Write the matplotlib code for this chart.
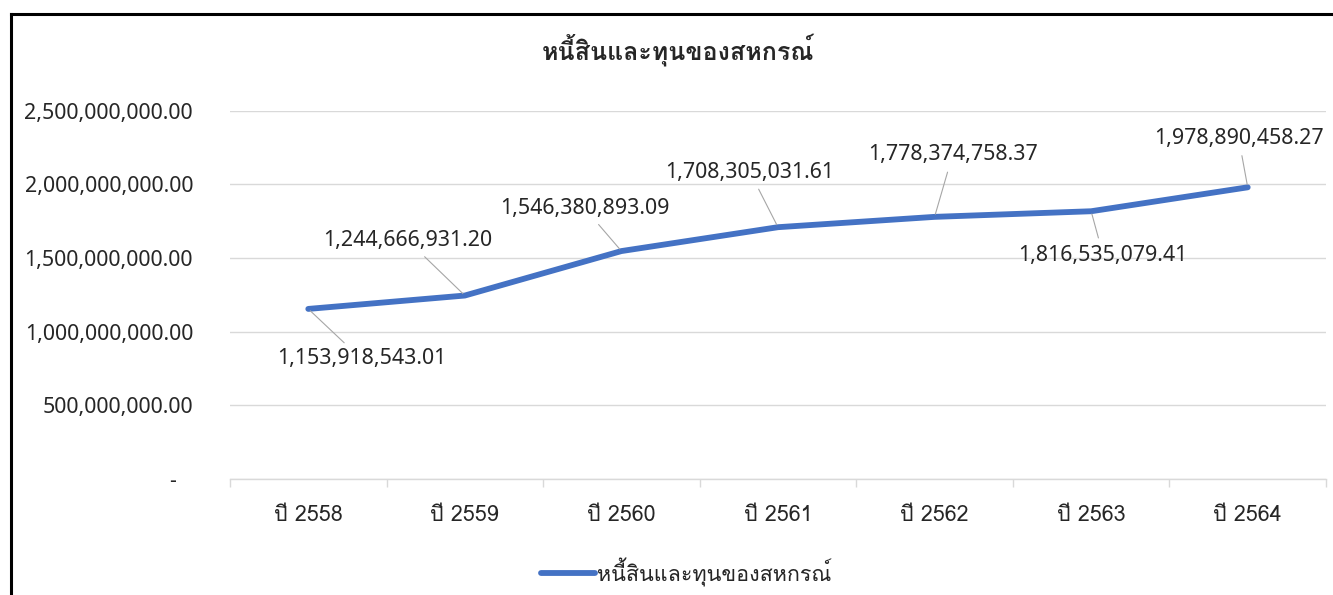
import matplotlib
matplotlib.use("Agg")
import matplotlib.pyplot as plt
from matplotlib.lines import Line2D

# ---- data ----
categories = ["ปี 2558", "ปี 2559", "ปี 2560", "ปี 2561", "ปี 2562", "ปี 2563", "ปี 2564"]
values = [1153918543.01, 1244666931.20, 1546380893.09, 1708305031.61,
          1778374758.37, 1816535079.41, 1978890458.27]
ytick_values = [0, 500000000, 1000000000, 1500000000, 2000000000, 2500000000]
ytick_labels = ["-   ", "500,000,000.00", "1,000,000,000.00", "1,500,000,000.00",
                "2,000,000,000.00", "2,500,000,000.00"]
title_text = "หนี้สินและทุนของสหกรณ์"
series_name = "หนี้สินและทุนของสหกรณ์"

# label placement (pixel offsets of label centre from its point)
label_offsets = [(53, -50), (-57, 55), (-37, 43), (-28, 55), (18, 62), (12, -44), (-9, 49)]

THAI = ["Loma", "DejaVu Sans"]
NUM = ["Noto Sans", "DejaVu Sans"]
LINE_COLOR = "#4472C4"
GRID = "#D9D9D9"
TEXT = "#262626"

W, H = 1333, 595
fig = plt.figure(figsize=(W / 100, H / 100), dpi=100)
ax = fig.add_axes([230 / W, 1 - 479 / H, 1096 / W, 368.5 / H])

x = list(range(len(categories)))
ax.plot(x, values, color=LINE_COLOR, lw=4.2, solid_capstyle="round",
        solid_joinstyle="round", zorder=3)

ax.set_xlim(-0.5, len(categories) - 0.5)
ax.set_ylim(0, 2500000000)

ax.set_yticks(ytick_values)
ax.set_yticklabels(ytick_labels, fontfamily=NUM, fontsize=15.4, color=TEXT)
ax.tick_params(axis="y", length=0, pad=26.6)
ax.yaxis.grid(True, color=GRID, lw=1.0)
ax.set_axisbelow(True)

ax.set_xticks(x)
ax.set_xticklabels(categories, fontfamily=THAI, fontsize=15.5, color=TEXT)
ax.set_xticks([i - 0.5 for i in range(len(categories) + 1)], minor=True)
ax.tick_params(axis="x", which="major", length=0, pad=18.5)
ax.tick_params(axis="x", which="minor", length=6, color=GRID, width=1.0)

for s in ["left", "right", "top"]:
    ax.spines[s].set_visible(False)
ax.spines["bottom"].set_color(GRID)
ax.spines["bottom"].set_linewidth(1.0)

for xi, v, (dx, dy) in zip(x, values, label_offsets):
    ax.annotate(f"{v:,.2f}", xy=(xi, v), xytext=(dx, dy), textcoords="offset pixels",
                ha="center", va="center", fontfamily=NUM, fontsize=15.4, color=TEXT,
                arrowprops=dict(arrowstyle="-", color="#A6A6A6", lw=0.8,
                                shrinkA=3, shrinkB=2))

fig.text(678 / W, 1 - 50 / H, title_text, ha="center", va="center",
         fontfamily=THAI, fontsize=18, fontweight="bold", color=TEXT)

handle = Line2D([], [], color=LINE_COLOR, lw=4.2, solid_capstyle="round")
leg = fig.legend([handle], [series_name], loc="center",
                 bbox_to_anchor=(686 / W, 1 - 572 / H), frameon=False,
                 prop={"family": THAI, "size": 15.5}, handlelength=2.5,
                 handletextpad=0.1)
for t in leg.get_texts():
    t.set_color(TEXT)

# outer frame (partial, as in the screenshot)
fig.add_artist(Line2D([10.5 / W, 10.5 / W], [0, 1 - 14 / H], color="black", lw=2.2,
                      transform=fig.transFigure, solid_capstyle="projecting"))
fig.add_artist(Line2D([10.5 / W, 1], [1 - 14 / H, 1 - 14 / H], color="black", lw=2.2,
                      transform=fig.transFigure, solid_capstyle="projecting"))

fig.savefig("out.png", dpi=100, facecolor="white")
